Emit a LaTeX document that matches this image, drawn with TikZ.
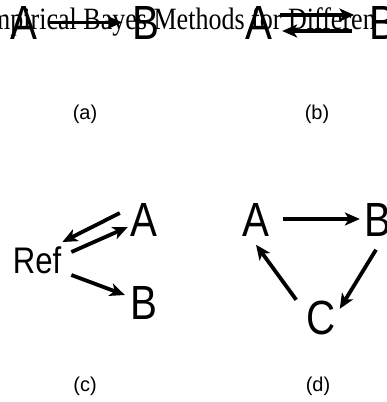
\documentclass[tikz,border=0pt]{standalone}
\usepackage{fontspec}
\usetikzlibrary{arrows.meta}
\setmainfont{Liberation Serif}
\newfontfamily\narsans[FakeStretch=0.84]{Liberation Sans}
\newfontfamily\narserif[FakeStretch=0.84]{Liberation Serif}
\newfontfamily\labsans{Liberation Sans}
\tikzset{
  letter/.style={inner sep=0pt, font=\narsans\fontsize{48}{48}\selectfont},
  reflab/.style={inner sep=0pt, font=\narsans\fontsize{37}{37}\selectfont},
  panel/.style={inner sep=0pt, font=\labsans\fontsize{20}{20}\selectfont},
  arr/.style={line width=3.8pt, -{Stealth[length=15pt, width=13pt, inset=4pt]}}
}
\begin{document}
\begin{tikzpicture}[x=1pt, y=-1pt]
  \useasboundingbox (0,0) rectangle (386,402);
  \clip (0,0) rectangle (386,402);
  \fill[white] (0,0) rectangle (386,402);

  \node[letter] (aA) at (23.5,22.5) {A};
  \node[letter] (aB) at (146,22.5) {B};
  \draw[arr] ([xshift=11pt]aA.east) -- ([xshift=-10pt]aB.west);
  \node[panel] (la) at (85,114) {(a)};

  \node[letter] (bA) at (258.5,22.5) {A};
  \node[letter] (bB) at (383,22.5) {B};
  \draw[arr] ([shift={(8,-7.5)}]bA.east) -- ([shift={(-15,-7.5)}]bB.west);
  \draw[arr] ([shift={(-17,8.5)}]bB.west) -- ([shift={(10,8.5)}]bA.east);
  \node[panel] (lb) at (317,114) {(b)};

  \node[reflab] (cRef) at (37,260) {Ref};
  \node[letter] (cA) at (144,220) {A};
  \node[letter] (cB) at (144,303) {B};
  \draw[arr] ([shift={(-10.5,-7)}]cA.west) -- ([shift={(1,-18)}]cRef.east);
  \draw[arr] ([shift={(10,-8)}]cRef.east) -- ([shift={(-2.5,7)}]cA.west);
  \draw[arr] ([shift={(10,15)}]cRef.east) -- ([shift={(-5.5,-8)}]cB.west);
  \node[panel] (lc) at (85,386) {(c)};

  \node[letter] (dA) at (256,220) {A};
  \node[letter] (dB) at (378,220) {B};
  \node[letter] (dC) at (321.5,318) {C};
  \draw[arr] ([shift={(13.5,-1)}]dA.east) -- ([shift={(-4.5,-1)}]dB.west);
  \draw[arr] ([shift={(-2,13)}]dB.south) -- ([shift={(3.5,8)}]dC.north east);
  \draw[arr] ([shift={(-10.5,-1)}]dC.north west) -- ([shift={(0,8)}]dA.south);
  \node[panel] (ld) at (318,386) {(d)};

  \node[anchor=base west, inner sep=0pt, font=\narserif\fontsize{31}{31}\selectfont] (title) at (-26,29) {Empirical Bayes Methods for Differen};
\end{tikzpicture}
\end{document}
